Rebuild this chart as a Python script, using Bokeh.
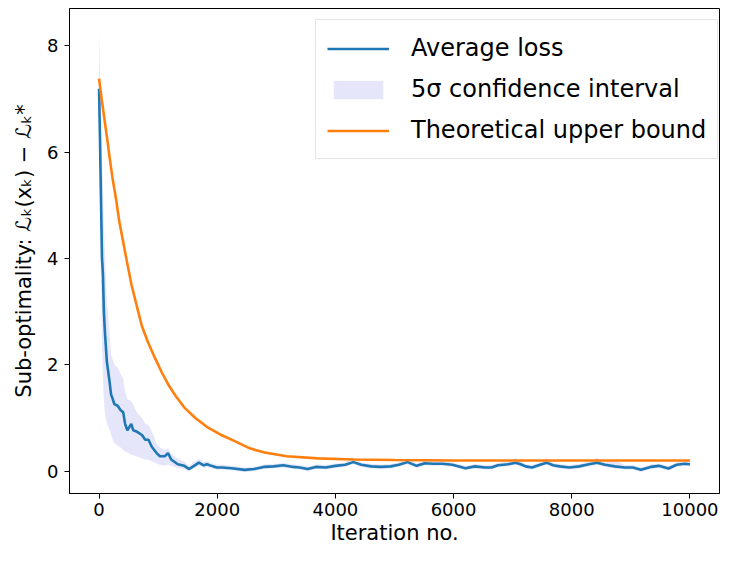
from bokeh.plotting import figure
from bokeh.models import Range1d, FixedTicker, Legend, LegendItem
from bokeh.embed import file_html
from bokeh.resources import INLINE

# ---- data ----
iters = [0, 15, 30, 50, 66, 82, 100, 132, 177, 204, 231, 259, 314, 369, 408, 441, 479, 545, 578, 644,
         726, 782, 837, 892, 974, 1030, 1112, 1167, 1221, 1332, 1442, 1525, 1607, 1690, 1772, 1827, 1900,
         1991, 2077, 2242, 2463, 2624, 2789, 2954, 3119, 3284, 3394, 3531, 3669, 3835, 4000, 4165, 4302,
         4439, 4604, 4769, 4934, 5072, 5221, 5375, 5512, 5650, 5815, 5980, 6200, 6365, 6530, 6640, 6750,
         6919, 7052, 7135, 7218, 7327, 7437, 7574, 7685, 7795, 7960, 8125, 8290, 8427, 8565, 8730, 8894,
         9033, 9170, 9335, 9472, 9637, 9775, 9912, 10000]

avg_loss = [7.19, 6.3, 5.3, 4.0, 3.7, 3.0, 2.6, 2.06, 1.69, 1.44, 1.36, 1.26, 1.23, 1.14, 1.11, 0.89, 0.77,
            0.89, 0.77, 0.74, 0.68, 0.59, 0.59, 0.46, 0.34, 0.28, 0.28, 0.34, 0.22, 0.13, 0.10, 0.04, 0.10,
            0.16, 0.11, 0.13, 0.10, 0.07, 0.07, 0.055, 0.025, 0.04, 0.08, 0.09, 0.11, 0.08, 0.07, 0.04, 0.08,
            0.07, 0.10, 0.12, 0.17, 0.12, 0.09, 0.08, 0.09, 0.12, 0.17, 0.10, 0.15, 0.14, 0.14, 0.12, 0.055,
            0.09, 0.07, 0.07, 0.11, 0.13, 0.16, 0.13, 0.09, 0.07, 0.11, 0.16, 0.11, 0.09, 0.07, 0.09, 0.13,
            0.16, 0.12, 0.09, 0.07, 0.07, 0.025, 0.08, 0.10, 0.05, 0.12, 0.14, 0.13]

ci_lower = [6.09, 5.0, 3.9, 2.4, 1.75, 1.35, 1.05, 0.90, 0.78, 0.68, 0.59, 0.53, 0.48, 0.44, 0.40, 0.37, 0.35,
            0.31, 0.30, 0.27, 0.24, 0.22, 0.21, 0.18, 0.15, 0.12, 0.10, 0.12, 0.10, 0.06, 0.04, 0.00, 0.05,
            0.10, 0.06, 0.08, 0.06, 0.03, 0.03, 0.015, -0.015, 0.00, 0.04, 0.05, 0.07, 0.04, 0.03, 0.00, 0.04,
            0.03, 0.06, 0.08, 0.13, 0.08, 0.05, 0.04, 0.05, 0.08, 0.13, 0.06, 0.11, 0.10, 0.10, 0.08, 0.015,
            0.05, 0.03, 0.03, 0.07, 0.09, 0.12, 0.09, 0.05, 0.03, 0.07, 0.12, 0.07, 0.05, 0.03, 0.05, 0.09,
            0.12, 0.08, 0.05, 0.03, 0.03, -0.015, 0.04, 0.06, 0.01, 0.08, 0.10, 0.09]

ci_upper = [8.29, 7.6, 6.7, 6.0, 5.4, 4.65, 4.15, 3.2, 2.6, 2.2, 2.1, 2.0, 1.95, 1.82, 1.75, 1.5, 1.35,
            1.32, 1.25, 1.10, 1.00, 0.89, 0.87, 0.75, 0.52, 0.45, 0.40, 0.43, 0.33, 0.24, 0.18, 0.10, 0.17,
            0.23, 0.17, 0.19, 0.15, 0.12, 0.12, 0.10, 0.07, 0.085, 0.125, 0.135, 0.155, 0.125, 0.115, 0.085,
            0.125, 0.115, 0.145, 0.165, 0.26, 0.165, 0.135, 0.125, 0.135, 0.165, 0.24, 0.145, 0.195, 0.185,
            0.185, 0.165, 0.10, 0.135, 0.115, 0.115, 0.155, 0.175, 0.25, 0.175, 0.135, 0.115, 0.155, 0.25,
            0.155, 0.135, 0.115, 0.135, 0.175, 0.25, 0.165, 0.21, 0.115, 0.115, 0.07, 0.125, 0.145, 0.095,
            0.165, 0.23, 0.175]

bound_iters = [0, 50, 100, 150, 177, 230, 290, 342, 400, 470, 550, 640, 725, 830, 950, 1060, 1170, 1300,
               1440, 1630, 1830, 2050, 2270, 2550, 2800, 3175, 3700, 4300, 5000, 6000, 7000, 8000, 9000,
               10000]
bound_vals = [7.38, 6.95, 6.55, 6.15, 5.91, 5.50, 5.10, 4.70, 4.36, 3.95, 3.50, 3.10, 2.73, 2.42, 2.12, 1.86,
              1.63, 1.41, 1.20, 1.00, 0.83, 0.69, 0.58, 0.43, 0.35, 0.28, 0.24, 0.22, 0.21, 0.20, 0.20, 0.20,
              0.20, 0.20]

x_ticks = [0, 2000, 4000, 6000, 8000, 10000]
y_ticks = [0, 2, 4, 6, 8]

labels = ["Average loss", "5σ confidence interval", "Theoretical upper bound"]

# ---- figure ----
p = figure(width=720, height=547, output_backend="svg", toolbar_location=None,
           x_range=Range1d(-500, 10500), y_range=Range1d(-0.42, 8.70),
           min_border_left=69, min_border_right=1, min_border_top=8, min_border_bottom=54)
p.background_fill_color = "white"
p.border_fill_color = "white"
p.outline_line_color = "black"
p.outline_line_width = 1
p.xgrid.visible = False
p.ygrid.visible = False

for ax in (p.xaxis[0], p.yaxis[0]):
    ax.major_tick_out = 5
    ax.major_tick_in = 0
    ax.minor_tick_out = 0
    ax.minor_tick_in = 0
    ax.axis_line_color = "black"
    ax.major_tick_line_color = "black"
    ax.major_label_text_font = "DejaVu Sans"
    ax.major_label_text_font_size = "18px"
    ax.major_label_text_color = "black"
    ax.major_label_standoff = 4
    ax.axis_label_text_font = "DejaVu Sans"
    ax.axis_label_text_font_size = "21px"
    ax.axis_label_text_font_style = "normal"
    ax.axis_label_text_color = "black"
    ax.axis_label_standoff = 2

p.yaxis[0].major_label_standoff = 6
p.yaxis[0].axis_label_standoff = 8

p.xaxis.ticker = FixedTicker(ticks=x_ticks)
p.yaxis.ticker = FixedTicker(ticks=y_ticks)
p.xaxis.axis_label = "Iteration no."
p.yaxis.axis_label = "Sub-optimality: ℒₖ(xₖ) − ℒₖ*"

band = p.varea(x=iters, y1=ci_lower, y2=ci_upper, fill_color="#e6e6fa", fill_alpha=1.0)
avg = p.line(iters, avg_loss, line_color="#1f77b4", line_width=2.6)
bound = p.line(bound_iters, bound_vals, line_color="#ff7f0e", line_width=2.6)

legend = Legend(items=[LegendItem(label=labels[0], renderers=[avg]),
                       LegendItem(label=labels[1], renderers=[band]),
                       LegendItem(label=labels[2], renderers=[bound])],
                location=(246, 334), padding=11, spacing=7,
                glyph_width=62, glyph_height=23, label_standoff=22, label_height=34,
                label_text_font="DejaVu Sans", label_text_font_size="24px", label_text_color="black",
                border_line_color="#cccccc", border_line_width=1,
                background_fill_color="white", background_fill_alpha=0.8)
p.add_layout(legend)

open("out.html", "w").write(file_html(p, INLINE))
